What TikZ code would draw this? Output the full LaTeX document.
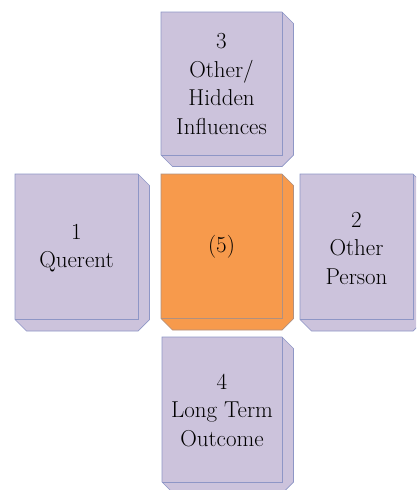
\documentclass[tikz,border=0pt]{standalone}
\usepackage{fontspec}
\definecolor{lav}{HTML}{CCC3DC}
\definecolor{lavline}{HTML}{8E96C6}
\definecolor{org}{HTML}{F79A4C}
\definecolor{orgline}{HTML}{B09080}
\tikzset{
  lavface/.style={fill=lav,draw=lavline,line width=0.7pt,line join=miter},
  lavedge/.style={draw=lavline,line width=0.7pt},
  orgface/.style={fill=org,draw=orgline,line width=0.7pt,line join=miter},
  orgedge/.style={draw=orgline,line width=0.7pt},
  boxtext/.style={align=center,inner sep=0pt,text=black,font=\fontsize{23}{28.5}\selectfont}
}
\def\cubedep{11.5}
\newcommand\cubebox[6]{%
  \path[#5] (#1,#2) -- (#3,#2) -- ({#3+\cubedep},{#2+\cubedep}) -- ({#3+\cubedep},#4)
     -- (#3,{#4+\cubedep}) -- ({#1+\cubedep},{#4+\cubedep}) -- (#1,#4) -- cycle;
  \draw[#6] (#3,#2) -- (#3,#4) -- (#1,#4);
}
\begin{document}
\begin{tikzpicture}[x=1pt,y=-1pt]
\useasboundingbox (0,0) rectangle (416,490);
\clip (0,0) rectangle (416,490);
% top
\cubebox{161}{12}{282}{155}{lavface}{lavedge}
\node[boxtext] (top) at (221.5,84) {3\\Other/\\Hidden\\Influences};
% left
\cubebox{15}{174}{138}{319.5}{lavface}{lavedge}
\node[boxtext] (left) at (76.5,248) {1\\Querent};
% center
\cubebox{161}{174}{282}{318.5}{orgface}{orgedge}
\node[boxtext] (center) at (221.5,247) {(5)};
% right
\cubebox{300}{174}{413}{319.5}{lavface}{lavedge}
\node[boxtext] (right) at (356.5,248) {2\\Other\\Person};
% bottom
\cubebox{162}{337}{282}{482}{lavface}{lavedge}
\node[boxtext] (bottom) at (222,410) {4\\Long Term\\Outcome};
\end{tikzpicture}
\end{document}
